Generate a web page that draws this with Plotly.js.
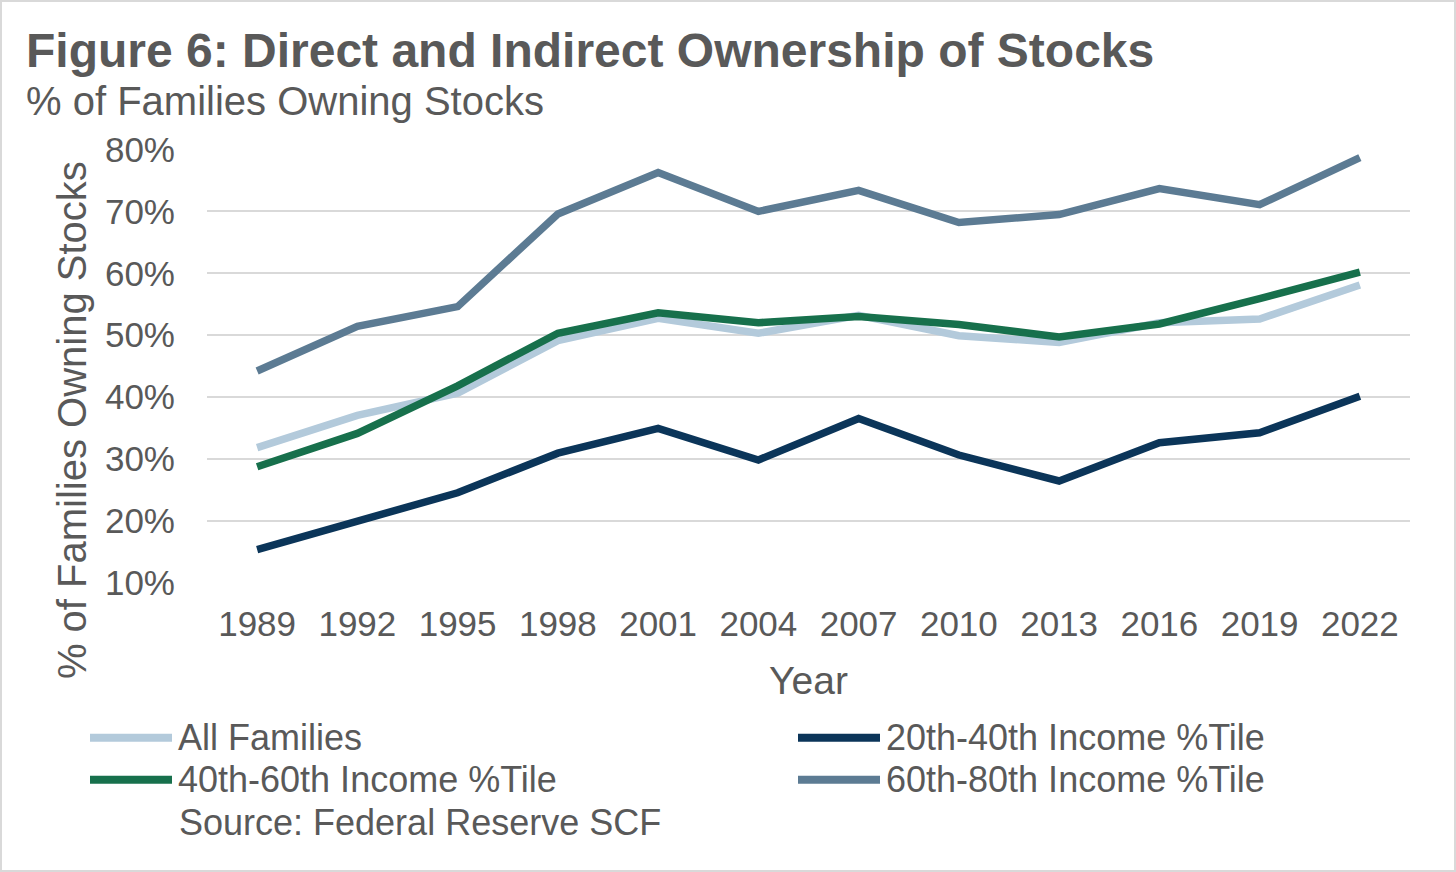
<!DOCTYPE html>
<html>
<head>
<meta charset="utf-8">
<script src="https://cdn.plot.ly/plotly-3.0.1.min.js"></script>
<style>
    body { margin: 0; background: #ffffff; }
    #wrap { position: relative; width: 1456px; height: 872px; }
    #myDiv { width: 1456px; height: 872px; }
    #frame { position: absolute; left: 0; top: 0; width: 1456px; height: 872px;
             box-sizing: border-box; border: 2px solid #d9d9d9; pointer-events: none; }
</style>
</head>
<body>
<div id="wrap">
    <div id="myDiv"></div>
    <div id="frame"></div>
</div>
<script>
// Datos
const years = ['1989', '1992', '1995', '1998', '2001', '2004', '2007', '2010', '2013', '2016', '2019', '2022'];
const allFamilies = [31.8, 37.0, 40.6, 49.1, 52.7, 50.3, 53.2, 49.9, 48.8, 52.0, 52.6, 58.1];
const pct20to40 = [15.3, 20.0, 24.5, 30.9, 34.9, 29.8, 36.5, 30.6, 26.4, 32.6, 34.2, 40.1];
const pct40to60 = [28.7, 34.1, 41.8, 50.3, 53.6, 52.0, 53.0, 51.7, 49.7, 51.8, 55.9, 60.2];
const pct60to80 = [44.2, 51.4, 54.6, 69.6, 76.3, 70.0, 73.4, 68.2, 69.5, 73.7, 71.1, 78.7];
const yTicks = [10, 20, 30, 40, 50, 60, 70, 80];

const seriesNames = ['All Families', '20th-40th Income %Tile', '40th-60th Income %Tile', '60th-80th Income %Tile'];
const seriesValues = [allFamilies, pct20to40, pct40to60, pct60to80];
const seriesColors = ['#b3cadb', '#0b3559', '#17704c', '#5c7b93'];

const W = 1456, H = 872;
const M = { l: 207, r: 46, t: 149.4, b: 289.4 };
const PW = W - M.l - M.r;
const PH = H - M.t - M.b;
const TEXT = '#595959';
const FONT = 'Liberation Sans, Arial, sans-serif';

// pixeles -> coordenadas "paper"
function px(x) { return (x - M.l) / PW; }
function py(y) { return (H - M.b - y) / PH; }

let traces = seriesNames.map((name, i) => ({
    x: years,
    y: seriesValues[i],
    mode: 'lines',
    type: 'scatter',
    name: name,
    hoverinfo: 'none',
    line: { width: 7.5, color: seriesColors[i] }
}));

let annotations = [
    { text: '<b>Figure 6: Direct and Indirect Ownership of Stocks</b>', x: px(24), y: py(51.5),
      xanchor: 'left', yanchor: 'middle', font: { size: 48, color: TEXT } },
    { text: '% of Families Owning Stocks', x: px(24), y: py(101),
      xanchor: 'left', yanchor: 'middle', font: { size: 40, color: TEXT } },
    { text: '% of Families Owning Stocks', x: px(72), y: py(420), textangle: -90,
      xanchor: 'center', yanchor: 'middle', font: { size: 40, color: TEXT } },
    { text: 'Source: Federal Reserve SCF', x: px(177), y: py(822),
      xanchor: 'left', yanchor: 'middle', font: { size: 36, color: TEXT } }
];

// Leyenda en dos columnas
let shapes = [];
const legCols = [90, 798];
const legRows = [737, 779];
seriesNames.forEach((name, i) => {
    let cx = legCols[i % 2];
    let cy = legRows[Math.floor(i / 2)];
    shapes.push({
        type: 'line', xref: 'paper', yref: 'paper',
        x0: px(cx), x1: px(cx + 82), y0: py(cy), y1: py(cy),
        line: { color: seriesColors[i], width: 8 }
    });
    annotations.push({
        text: name, x: px(cx + 86), y: py(cy), xanchor: 'left', yanchor: 'middle',
        font: { size: 36, color: TEXT }
    });
});
annotations.forEach(a => { a.xref = 'paper'; a.yref = 'paper'; a.showarrow = false; });

let layout = {
    width: W,
    height: H,
    paper_bgcolor: '#ffffff',
    plot_bgcolor: '#ffffff',
    font: { family: FONT, color: TEXT },
    margin: M,
    showlegend: false,
    xaxis: {
        type: 'category',
        range: [-0.5, years.length - 0.5],
        showgrid: false,
        zeroline: false,
        showline: false,
        ticks: 'outside',
        ticklen: 10,
        tickcolor: 'rgba(0,0,0,0)',
        tickfont: { size: 35, color: TEXT },
        title: { text: 'Year', font: { size: 39, color: TEXT }, standoff: 24 },
        fixedrange: true
    },
    yaxis: {
        range: [9.9, 80.1],
        tickmode: 'array',
        tickvals: yTicks,
        ticktext: yTicks.map(v => v + '%'),
        showgrid: true,
        gridcolor: '#d9d9d9',
        gridwidth: 2,
        zeroline: false,
        showline: false,
        ticks: 'outside',
        ticklen: 24,
        tickcolor: 'rgba(0,0,0,0)',
        tickfont: { size: 35, color: TEXT },
        fixedrange: true
    },
    annotations: annotations,
    shapes: shapes
};

Plotly.newPlot('myDiv', traces, layout, { displayModeBar: false, staticPlot: true });
</script>
</body>
</html>
